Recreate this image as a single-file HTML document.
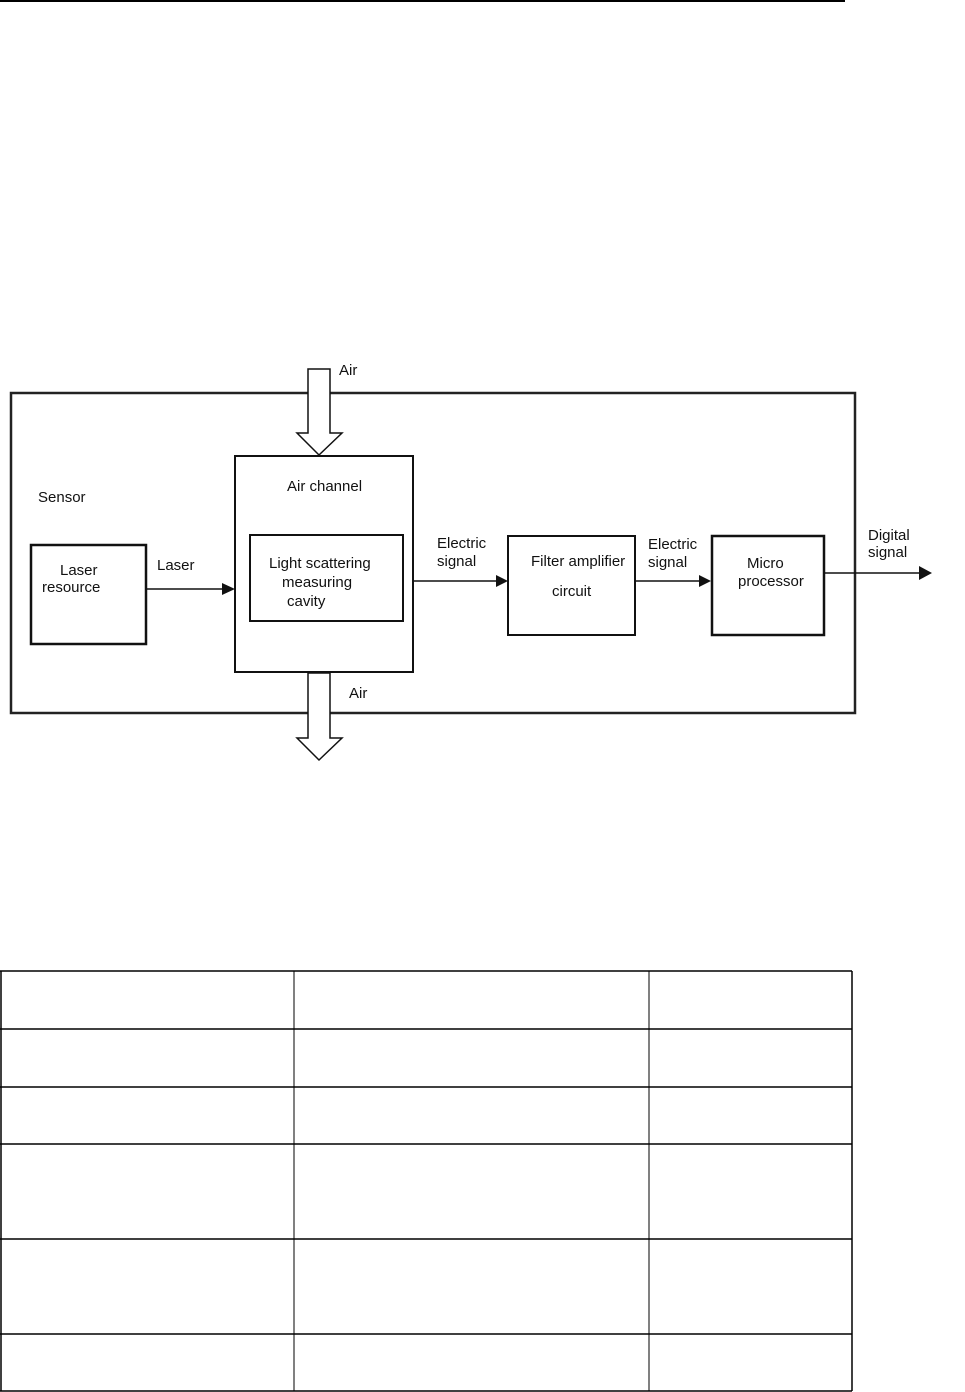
<!DOCTYPE html>
<html><head><meta charset="utf-8"><style>
html,body{margin:0;padding:0;background:#fff;}
svg{display:block;}
text{font-family:"Liberation Sans",Arial,sans-serif;font-size:15px;fill:#111;}
</style></head><body>
<svg width="965" height="1392" viewBox="0 0 965 1392" xmlns="http://www.w3.org/2000/svg">
<line x1="0" y1="1" x2="845" y2="1" stroke="#000" stroke-width="2"/>
<rect x="11" y="393" width="844" height="320" fill="none" stroke="#222" stroke-width="2.5"/>
<polygon points="308,369 330,369 330,433 342,433 319,455 297,433 308,433" fill="#fff" stroke="#111" stroke-width="1.5"/>
<text x="339" y="375">Air</text>
<rect x="235" y="456" width="178" height="216" fill="none" stroke="#111" stroke-width="2"/>
<text x="287" y="491">Air channel</text>
<rect x="250" y="535" width="153" height="86" fill="none" stroke="#111" stroke-width="2"/>
<text x="269" y="568">Light scattering</text>
<text x="282" y="587">measuring</text>
<text x="287" y="606">cavity</text>
<polygon points="308,673 330,673 330,738 342,738 319,760 297,738 308,738" fill="#fff" stroke="#111" stroke-width="1.5"/>
<text x="349" y="698">Air</text>
<text x="38" y="502">Sensor</text>
<rect x="31" y="545" width="115" height="99" fill="none" stroke="#111" stroke-width="2.5"/>
<text x="60" y="575">Laser</text>
<text x="42" y="592">resource</text>
<text x="157" y="570">Laser</text>
<line x1="146" y1="589" x2="224" y2="589" stroke="#111" stroke-width="1.5"/>
<polygon points="222,583 235,589 222,595" fill="#111"/>
<text x="437" y="548">Electric</text>
<text x="437" y="566">signal</text>
<line x1="413" y1="581" x2="497" y2="581" stroke="#111" stroke-width="1.5"/>
<polygon points="496,575 508,581 496,587" fill="#111"/>
<rect x="508" y="536" width="127" height="99" fill="none" stroke="#111" stroke-width="2"/>
<text x="531" y="566">Filter amplifier</text>
<text x="552" y="596">circuit</text>
<text x="648" y="549">Electric</text>
<text x="648" y="567">signal</text>
<line x1="635" y1="581" x2="700" y2="581" stroke="#111" stroke-width="1.5"/>
<polygon points="699,575 711,581 699,587" fill="#111"/>
<rect x="712" y="536" width="112" height="99" fill="none" stroke="#111" stroke-width="2.5"/>
<text x="747" y="568">Micro</text>
<text x="738" y="586">processor</text>
<text x="868" y="540">Digital</text>
<text x="868" y="557">signal</text>
<line x1="824" y1="573" x2="920" y2="573" stroke="#111" stroke-width="1.5"/>
<polygon points="919,566 932,573 919,580" fill="#111"/>
<g stroke="#000" stroke-width="1.5" fill="none">
<line x1="0" y1="971" x2="852" y2="971"/>
<line x1="0" y1="1029" x2="852" y2="1029"/>
<line x1="0" y1="1087" x2="852" y2="1087"/>
<line x1="0" y1="1144" x2="852" y2="1144"/>
<line x1="0" y1="1239" x2="852" y2="1239"/>
<line x1="0" y1="1334" x2="852" y2="1334"/>
<line x1="0" y1="1391" x2="852" y2="1391"/>
<line x1="1" y1="971" x2="1" y2="1391"/>
<line x1="294" y1="971" x2="294" y2="1391" stroke-width="1"/>
<line x1="649" y1="971" x2="649" y2="1391" stroke-width="1"/>
<line x1="852" y1="971" x2="852" y2="1391"/>
</g>
</svg>
</body></html>
